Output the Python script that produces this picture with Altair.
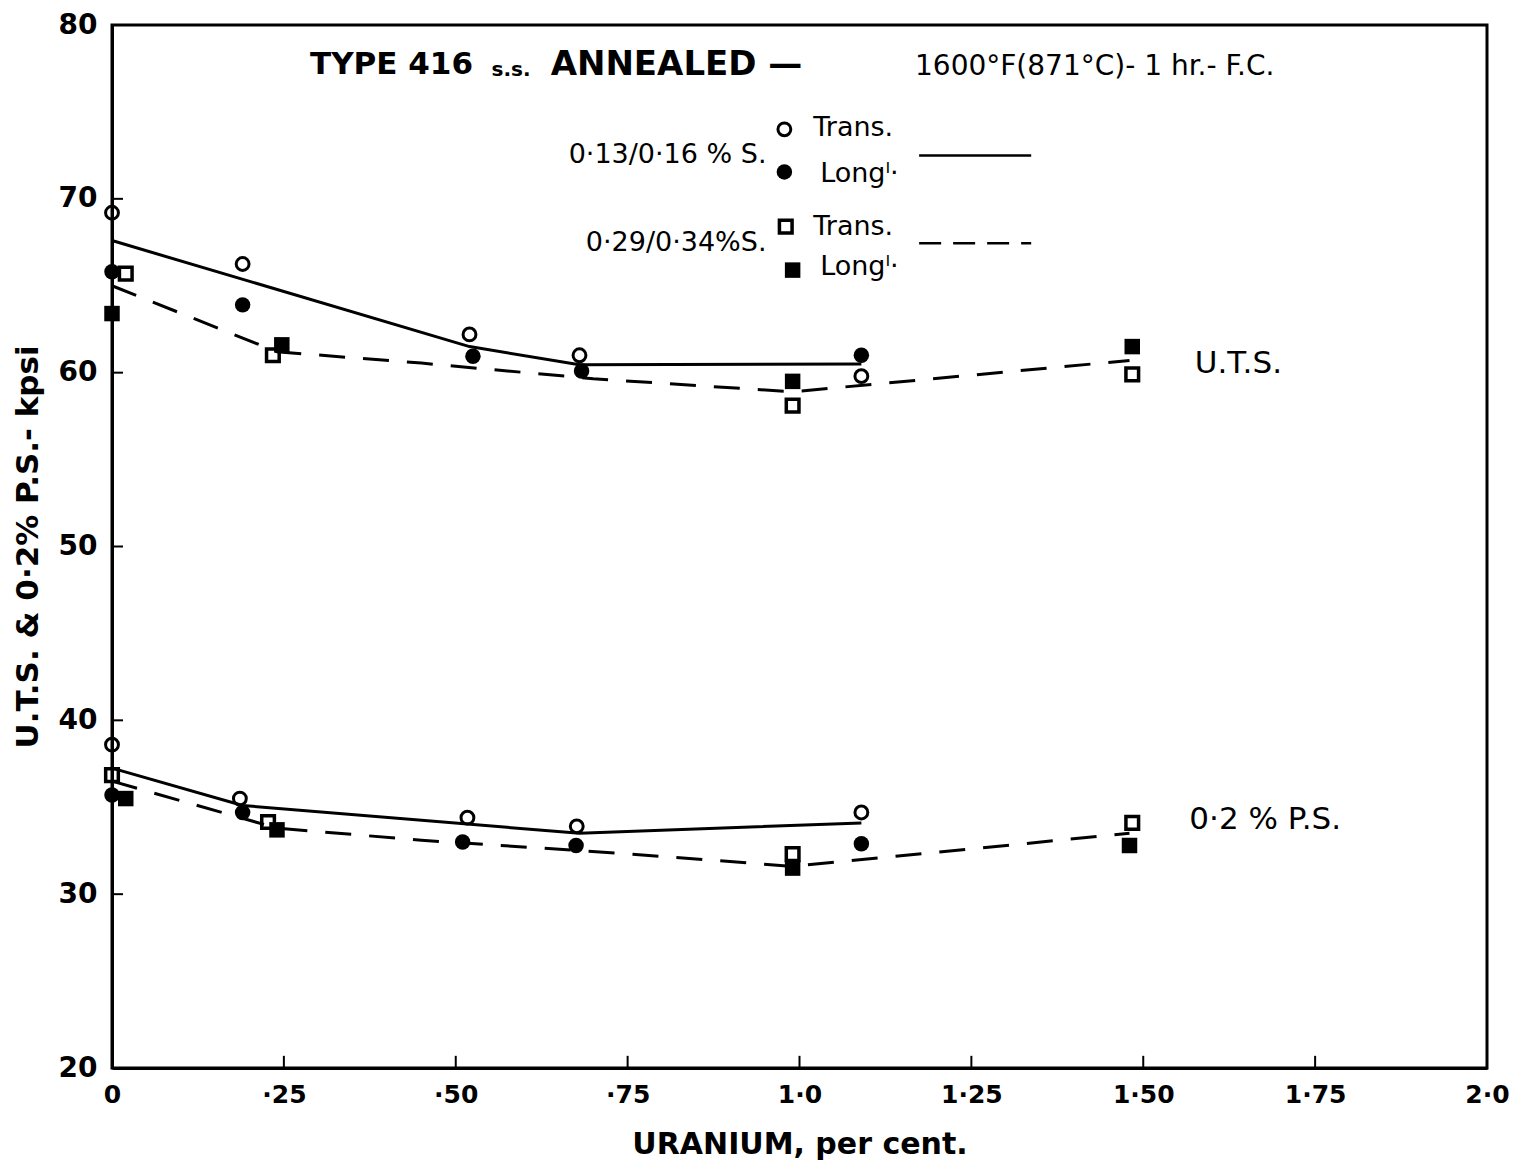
import altair as alt
import pandas as pd

# ---------------- data ----------------
# U.T.S. points
uts_ct_x = [0.0, 0.19, 0.52, 0.68, 1.09]      # 0.13/0.16 %S Trans (open circle)
uts_ct_y = [69.2, 66.25, 62.2, 61.0, 59.8]
uts_cl_x = [0.0, 0.19, 0.525, 0.683, 1.09]    # 0.13/0.16 %S Longl (filled circle)
uts_cl_y = [65.8, 63.9, 60.95, 60.1, 61.0]
uts_st_x = [0.02, 0.234, 0.99, 1.484]         # 0.29/0.34 %S Trans (open square)
uts_st_y = [65.7, 61.0, 58.1, 59.9]
uts_sl_x = [0.0, 0.247, 0.99, 1.484]          # 0.29/0.34 %S Longl (filled square)
uts_sl_y = [63.4, 61.6, 59.5, 61.5]

# 0.2 % P.S. points
ps_ct_x = [0.0, 0.186, 0.517, 0.676, 1.09]
ps_ct_y = [38.6, 35.5, 34.4, 33.9, 34.7]
ps_cl_x = [0.0, 0.19, 0.51, 0.675, 1.09]
ps_cl_y = [35.7, 34.7, 33.0, 32.8, 32.9]
ps_st_x = [0.0, 0.227, 0.99, 1.484]
ps_st_y = [36.85, 34.15, 32.3, 34.1]
ps_sl_x = [0.02, 0.24, 0.99, 1.48]
ps_sl_y = [35.5, 33.7, 31.5, 32.8]

# fitted curves
uts_solid_x = [0.0, 0.52, 0.68, 1.09]
uts_solid_y = [67.6, 61.5, 60.45, 60.5]
uts_dash_x = [0.0, 0.24, 0.45, 0.70, 0.99, 1.48]
uts_dash_y = [65.0, 61.2, 60.55, 59.65, 58.9, 60.7]
ps_solid_x = [0.0, 0.19, 0.68, 1.09]
ps_solid_y = [37.25, 35.1, 33.5, 34.1]
ps_dash_x = [0.0, 0.24, 0.45, 0.74, 0.99, 1.48]
ps_dash_y = [36.5, 33.8, 33.1, 32.35, 31.6, 33.5]

# axis ticks and labels
x_ticks = [0, 0.25, 0.5, 0.75, 1.0, 1.25, 1.5, 1.75, 2.0]
x_tick_labels = ["0", "·25", "·50", "·75", "1·0", "1·25", "1·50", "1·75", "2·0"]
y_ticks = [20, 30, 40, 50, 60, 70, 80]

# annotation texts
title_parts = ["TYPE 416", "s.s.", "ANNEALED —", "1600°F(871°C)- 1 hr.- F.C."]
title_x = [0.288, 0.552, 0.638, 1.168]
title_y = [77.7, 77.4, 77.7, 77.6]
title_size = [31, 20, 34, 28]

group_labels = ["0·13/0·16 % S.", "0·29/0·34%S."]
group_x = [0.952, 0.952]
group_y = [72.5, 67.45]

entry_labels = ["Trans.", "Longˡ·", "Trans.", "Longˡ·"]
entry_tx = [1.02, 1.03, 1.02, 1.03]
entry_ty = [74.1, 71.4, 68.4, 66.1]
entry_mx = [0.978, 0.978, 0.98, 0.99]
entry_my = [74.0, 71.55, 68.4, 65.9]

leg_line_x = [1.174, 1.174]
leg_line_x2 = [1.337, 1.337]
leg_line_y = [72.5, 67.45]

curve_labels = ["U.T.S.", "0·2 % P.S."]
curve_lx = [1.575, 1.567]
curve_ly = [60.5, 34.25]

# ---------------- build tables ----------------
def pts(xs, ys):
    return pd.DataFrame({"x": xs, "y": ys})

ct = pd.concat([pts(uts_ct_x, uts_ct_y), pts(ps_ct_x, ps_ct_y), pts([entry_mx[0]], [entry_my[0]])])
cl = pd.concat([pts(uts_cl_x, uts_cl_y), pts(ps_cl_x, ps_cl_y), pts([entry_mx[1]], [entry_my[1]])])
st = pd.concat([pts(uts_st_x, uts_st_y), pts(ps_st_x, ps_st_y), pts([entry_mx[2]], [entry_my[2]])])
sl = pd.concat([pts(uts_sl_x, uts_sl_y), pts(ps_sl_x, ps_sl_y), pts([entry_mx[3]], [entry_my[3]])])

solid = pd.concat([
    pd.DataFrame({"x": uts_solid_x, "y": uts_solid_y, "c": "uts"}),
    pd.DataFrame({"x": ps_solid_x, "y": ps_solid_y, "c": "ps"}),
])
dashed = pd.concat([
    pd.DataFrame({"x": uts_dash_x, "y": uts_dash_y, "c": "uts"}),
    pd.DataFrame({"x": ps_dash_x, "y": ps_dash_y, "c": "ps"}),
])

FONT = "DejaVu Sans"
label_expr = "[" + ",".join("'%s'" % s for s in x_tick_labels) + "][round(datum.value*4)]"

xs = alt.Scale(domain=[0, 2], nice=False, zero=False)
ys = alt.Scale(domain=[20, 80], nice=False, zero=False)

x_axis = alt.Axis(values=x_ticks, labelExpr=label_expr, tickSize=0, grid=False, labelFlush=False,
                  domainColor="black", domainWidth=3, labelFont=FONT, labelFontSize=25,
                  labelFontWeight="bold", labelColor="black", labelPadding=14,
                  title="URANIUM,  per cent.", titleFont=FONT, titleFontSize=30,
                  titleFontWeight="bold", titleColor="black", titlePadding=22)
y_axis = alt.Axis(values=y_ticks, tickSize=0, grid=False, domainColor="black", domainWidth=3,
                  labelFlush=False,
                  labelFont=FONT, labelFontSize=28, labelFontWeight="bold", labelColor="black",
                  labelPadding=15, title="U.T.S. & 0·2% P.S.- kpsi", titleFont=FONT,
                  titleFontSize=31, titleFontWeight="bold", titleColor="black", titlePadding=14)

X = alt.X("x:Q", scale=xs, axis=x_axis)
Y = alt.Y("y:Q", scale=ys, axis=y_axis)

solid_layer = alt.Chart(solid).mark_line(color="black", strokeWidth=3).encode(x=X, y=Y, detail="c:N")
dash_layer = alt.Chart(dashed).mark_line(color="black", strokeWidth=3, strokeDash=[26, 18]).encode(
    x=X, y=Y, detail="c:N")

ct_layer = alt.Chart(ct).mark_point(shape="circle", filled=False, color="black", strokeWidth=3,
                                   size=165, opacity=1).encode(x=X, y=Y)
cl_layer = alt.Chart(cl).mark_point(shape="circle", filled=True, color="black", size=240,
                                   opacity=1).encode(x=X, y=Y)
st_layer = alt.Chart(st).mark_point(shape="square", filled=False, color="black", strokeWidth=3.5,
                                   size=160, opacity=1).encode(x=X, y=Y)
sl_layer = alt.Chart(sl).mark_point(shape="square", filled=True, color="black", size=240,
                                   opacity=1).encode(x=X, y=Y)

# inward ticks
xt = pd.DataFrame({"x": x_ticks[1:-1], "y": [20.0] * 7, "y2": [20.7] * 7})
yt = pd.DataFrame({"x": [0.0] * 5, "x2": [0.016] * 5, "y": y_ticks[1:-1]})
xtick_layer = alt.Chart(xt).mark_rule(color="black", strokeWidth=2).encode(x=X, y=Y, y2="y2:Q")
ytick_layer = alt.Chart(yt).mark_rule(color="black", strokeWidth=2).encode(x=X, x2="x2:Q", y=Y)

# legend lines
ll = pd.DataFrame({"x": leg_line_x, "x2": leg_line_x2, "y": leg_line_y, "k": ["solid", "dash"]})
leg_solid = alt.Chart(ll[ll.k == "solid"]).mark_rule(color="black", strokeWidth=2.5).encode(
    x=X, x2="x2:Q", y=Y)
leg_dash = alt.Chart(ll[ll.k == "dash"]).mark_rule(color="black", strokeWidth=2.5,
                                                   strokeDash=[22, 12]).encode(x=X, x2="x2:Q", y=Y)

# texts
tt = pd.DataFrame({"x": title_x, "y": title_y, "t": title_parts, "s": title_size})
title_layers = [
    alt.Chart(tt.iloc[[i]]).mark_text(align="left", baseline="middle", font=FONT,
                                      fontWeight="bold" if i < 3 else "normal",
                                      fontSize=title_size[i], color="black").encode(
        x=X, y=Y, text="t:N")
    for i in range(len(title_parts))
]
gl = pd.DataFrame({"x": group_x, "y": group_y, "t": group_labels})
group_layer = alt.Chart(gl).mark_text(align="right", baseline="middle", font=FONT, fontSize=27,
                                      color="black").encode(x=X, y=Y, text="t:N")
el = pd.DataFrame({"x": entry_tx, "y": entry_ty, "t": entry_labels})
entry_layer = alt.Chart(el).mark_text(align="left", baseline="middle", font=FONT, fontSize=27,
                                      color="black").encode(x=X, y=Y, text="t:N")
cl_df = pd.DataFrame({"x": curve_lx, "y": curve_ly, "t": curve_labels})
curve_layer = alt.Chart(cl_df).mark_text(align="left", baseline="middle", font=FONT, fontSize=31,
                                         color="black").encode(x=X, y=Y, text="t:N")

chart = alt.layer(
    solid_layer, dash_layer, ct_layer, cl_layer, st_layer, sl_layer,
    xtick_layer, ytick_layer, leg_solid, leg_dash,
    *title_layers, group_layer, entry_layer, curve_layer,
).properties(
    width=1375, height=1043,
    autosize=alt.AutoSizeParams(type="none"),
    padding={"left": 112, "top": 25, "right": 27, "bottom": 102},
    background="white",
).configure_view(stroke="black", strokeWidth=3)

chart.save("out.html", embed_options={"renderer": "svg", "actions": False})
